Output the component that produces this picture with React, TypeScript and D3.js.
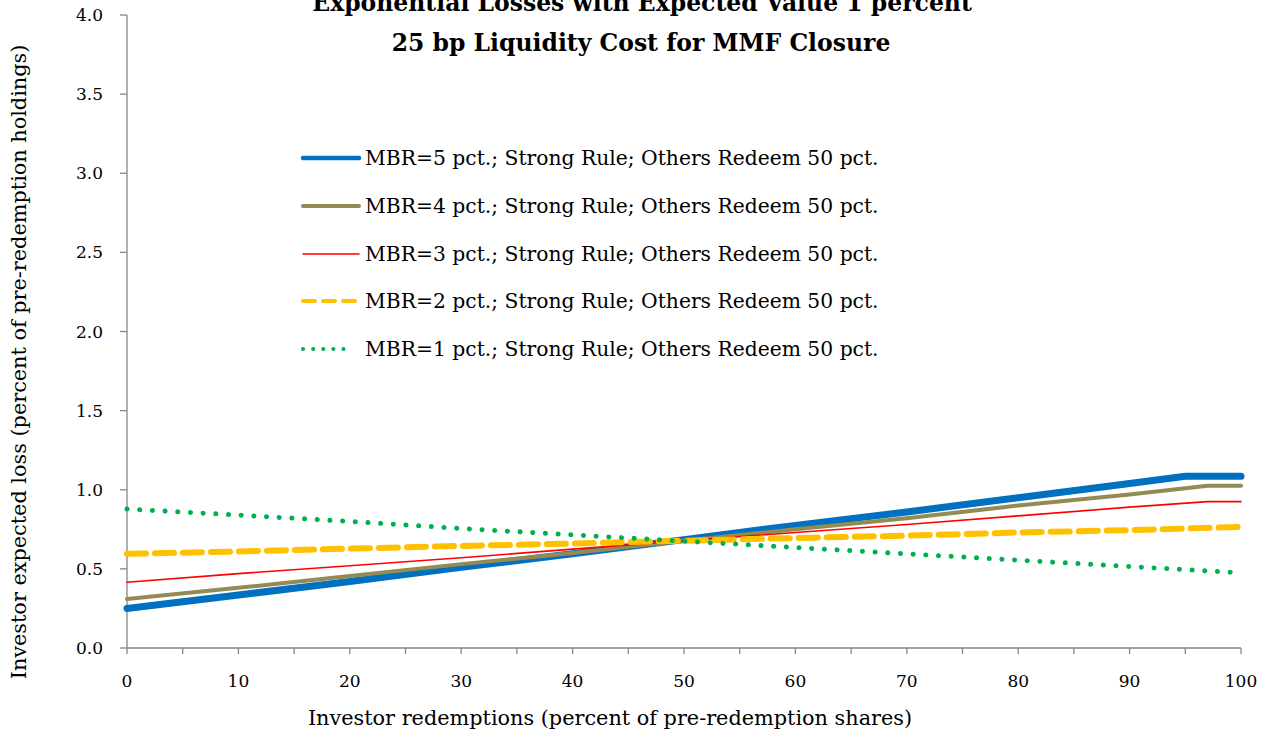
import React from "react";
import * as d3 from "d3";

const xTicks = [0, 10, 20, 30, 40, 50, 60, 70, 80, 90, 100];
const xMinorTicks = d3.range(0, 101, 5);
const yTicks = [0, 0.5, 1, 1.5, 2, 2.5, 3, 3.5, 4];

const seriesNames = [
  "MBR=5 pct.; Strong Rule; Others Redeem 50 pct.",
  "MBR=4 pct.; Strong Rule; Others Redeem 50 pct.",
  "MBR=3 pct.; Strong Rule; Others Redeem 50 pct.",
  "MBR=2 pct.; Strong Rule; Others Redeem 50 pct.",
  "MBR=1 pct.; Strong Rule; Others Redeem 50 pct.",
];

const mbr5X = [0, 10, 20, 30, 40, 50, 60, 70, 80, 90, 95, 100];
const mbr5Y = [0.25, 0.335, 0.42, 0.51, 0.595, 0.685, 0.775, 0.86, 0.95, 1.04, 1.085, 1.085];
const mbr4X = [0, 10, 20, 30, 40, 50, 60, 70, 80, 90, 97, 100];
const mbr4Y = [0.31, 0.38, 0.455, 0.53, 0.6, 0.678, 0.75, 0.82, 0.9, 0.97, 1.025, 1.025];
const mbr3X = [0, 10, 20, 30, 40, 50, 60, 70, 80, 90, 97, 100];
const mbr3Y = [0.415, 0.47, 0.52, 0.57, 0.625, 0.678, 0.73, 0.78, 0.835, 0.89, 0.925, 0.925];
const mbr2X = [0, 10, 20, 30, 40, 50, 60, 70, 80, 90, 100];
const mbr2Y = [0.595, 0.61, 0.628, 0.645, 0.66, 0.678, 0.695, 0.71, 0.73, 0.745, 0.765];
const mbr1X = [0, 10, 20, 30, 40, 50, 60, 70, 80, 90, 100];
const mbr1Y = [0.878, 0.84, 0.8, 0.755, 0.715, 0.675, 0.635, 0.595, 0.555, 0.515, 0.475];

const styles = [
  { color: "#0070C0", width: 7, dash: "" },
  { color: "#948A54", width: 4, dash: "" },
  { color: "#FF0000", width: 1.6, dash: "" },
  { color: "#FFC000", width: 6, dash: "19 9" },
  { color: "#00B050", width: 5, dash: "0.1 12.6" },
];

const FONT = "'DejaVu Serif', 'Liberation Serif', serif";

export default function App() {
  const W = 1270, H = 738;
  const x = d3.scaleLinear().domain([0, 100]).range([127, 1241]);
  const y = d3.scaleLinear().domain([0, 4]).range([648, 15]);
  const line = d3.line<[number, number]>().x((d) => x(d[0])).y((d) => y(d[1]));
  const series = [
    [mbr5X, mbr5Y],
    [mbr4X, mbr4Y],
    [mbr3X, mbr3Y],
    [mbr2X, mbr2Y],
    [mbr1X, mbr1Y],
  ].map(([xs, ys]) => xs.map((v, i) => [v, ys[i]] as [number, number]));
  const legendY = [158, 206, 254, 301, 349];
  const axisColor = "#868686";

  return (
    <svg width={W} height={H} style={{ position: "absolute", left: 0, top: 0, background: "#fff" }} fontFamily={FONT}>
      <rect width={W} height={H} fill="#fff" />
      <text x={642} y={11} textAnchor="middle" fontWeight="bold" fontSize={23.5}>
        Exponential Losses with Expected Value 1 percent
      </text>
      <text x={641} y={51} textAnchor="middle" fontWeight="bold" fontSize={23.5}>
        25 bp Liquidity Cost for MMF Closure
      </text>
      {/* axes */}
      <line x1={x(0)} x2={x(0)} y1={y(4)} y2={y(0)} stroke={axisColor} strokeWidth={1.3} />
      <line x1={x(0)} x2={x(100)} y1={y(0)} y2={y(0)} stroke={axisColor} strokeWidth={1.3} />
      {yTicks.map((t) => (
        <g key={"y" + t}>
          <line x1={x(0) - 7} x2={x(0)} y1={y(t)} y2={y(t)} stroke={axisColor} strokeWidth={1.3} />
          <text x={103} y={y(t) + 6} textAnchor="end" fontSize={17}>
            {t.toFixed(1)}
          </text>
        </g>
      ))}
      {xMinorTicks.map((t) => (
        <line key={"xm" + t} x1={x(t)} x2={x(t)} y1={y(0)} y2={y(0) + 6} stroke={axisColor} strokeWidth={1.3} />
      ))}
      {xTicks.map((t) => (
        <text key={"xt" + t} x={x(t)} y={687} textAnchor="middle" fontSize={17}>
          {t}
        </text>
      ))}
      <text x={610} y={725} textAnchor="middle" fontSize={20.8}>
        Investor redemptions (percent of pre-redemption shares)
      </text>
      <text transform="translate(26,362) rotate(-90)" textAnchor="middle" fontSize={20.8}>
        Investor expected loss (percent of pre-redemption holdings)
      </text>
      {/* series */}
      {series.map((s, i) => (
        <path
          key={"s" + i}
          d={line(s) || ""}
          fill="none"
          stroke={styles[i].color}
          strokeWidth={styles[i].width}
          strokeDasharray={styles[i].dash || undefined}
          strokeLinecap="round"
          strokeLinejoin="round"
        />
      ))}
      {/* legend */}
      {seriesNames.map((n, i) => (
        <g key={"l" + i}>
          <line
            x1={303}
            x2={i === 4 ? 353.5 : 359}
            y1={legendY[i]}
            y2={legendY[i]}
            stroke={styles[i].color}
            strokeWidth={i === 0 ? 4.5 : styles[i].width === 1.6 ? 1.5 : Math.min(styles[i].width, 4)}
            strokeDasharray={i === 3 ? "12 8" : i === 4 ? "0.1 10" : undefined}
            strokeLinecap="round"
          />
          <text x={365} y={legendY[i] + 7} fontSize={20.3}>
            {n}
          </text>
        </g>
      ))}
    </svg>
  );
}
